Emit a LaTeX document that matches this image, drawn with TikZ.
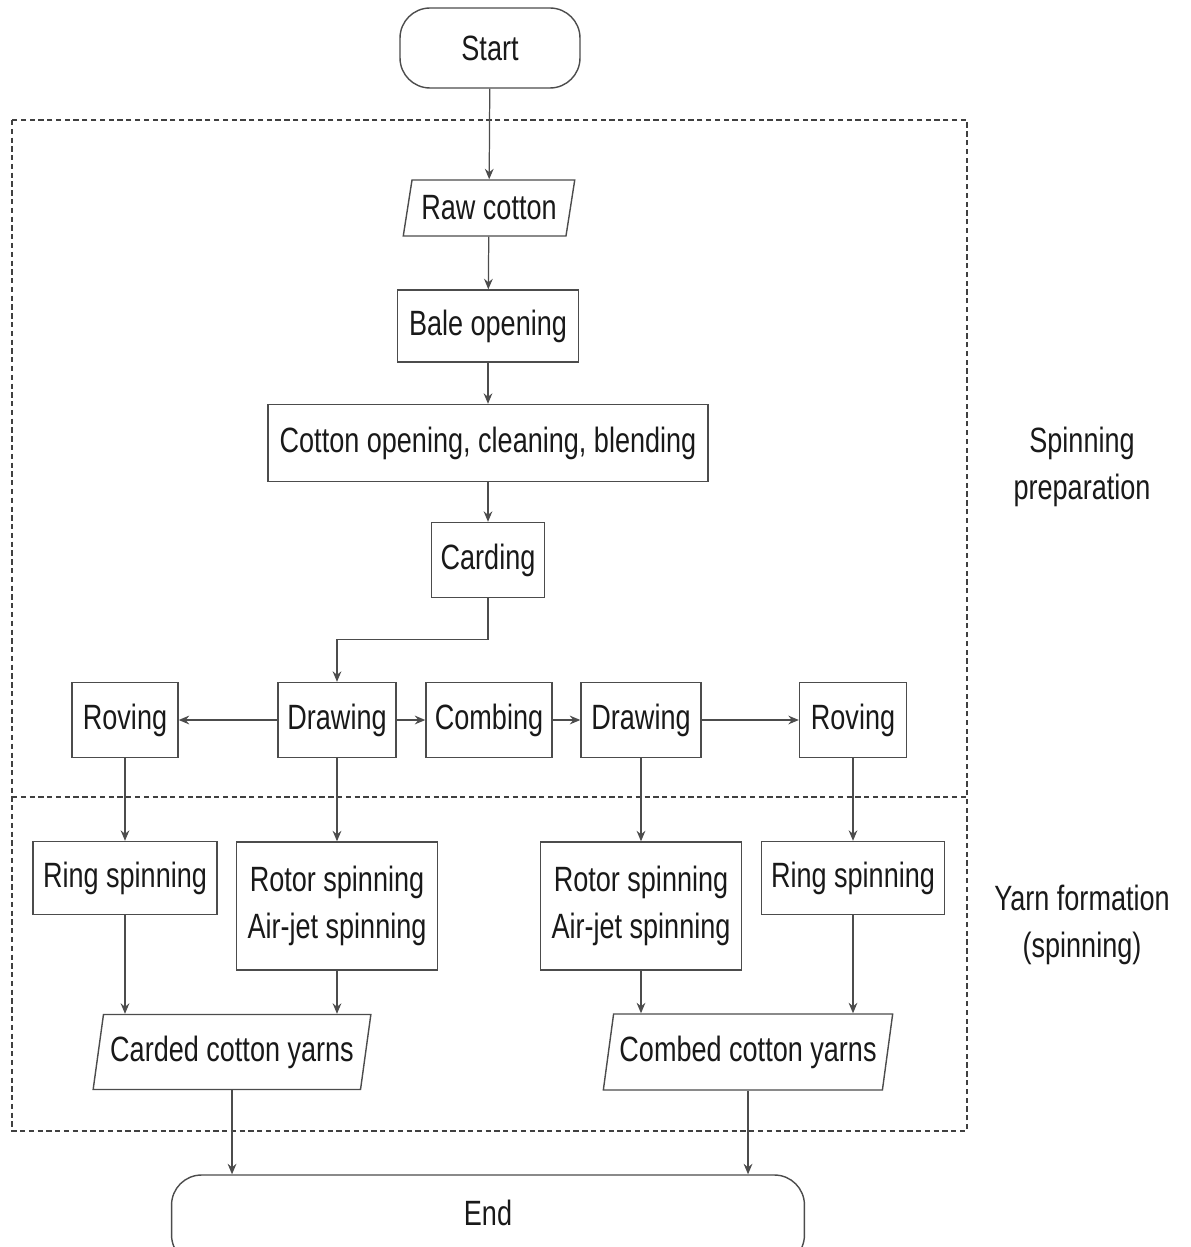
\documentclass[tikz,border=0pt]{standalone}
\usepackage{fontspec}
\setmainfont{Liberation Sans}[FakeStretch=0.77]
\usetikzlibrary{shapes.geometric,arrows.meta}

\begin{document}
\begin{tikzpicture}[
    x=0.02cm, y=-0.02cm,
    every node/.style={font=\fontsize{20}{27}\selectfont, text=black!90},
    box/.style={draw=black!70, line width=0.8pt, rectangle, align=center},
    io/.style={draw=black!70, line width=0.8pt, trapezium, trapezium left angle=77,
        trapezium right angle=103, trapezium stretches=true},
    term/.style={draw=black!70, line width=0.8pt, rectangle, rounded corners=0.6cm},
    flow/.style={draw=black!70, line width=0.7pt, -{Stealth[length=6pt,width=5pt,inset=2pt]}},
    zone/.style={draw=black!75, line width=0.8pt, dash pattern=on 3pt off 2pt}]
    \useasboundingbox (0,0) rectangle (1190,1247);

    % zones
    \draw[zone] (12,120) rectangle (967,1131);
    \draw[zone] (12,797) -- (967,797);
    \node[align=center] (prep) at (1082,467) {Spinning\\preparation};
    \node[align=center] (yarn) at (1082,925) {Yarn formation\\(spinning)};

    % main line
    \node[term, minimum width=3.6cm, minimum height=1.6cm] (start) at (490,48) {Start};
    \node[io, minimum width=3.44cm, minimum height=1.12cm] (raw) at (489,208) {Raw cotton};
    \node[box, minimum width=3.62cm, minimum height=1.44cm] (bale) at (488,326) {Bale opening};
    \node[box, minimum width=8.8cm, minimum height=1.54cm] (clean) at (488,443) {Cotton opening, cleaning, blending};
    \node[box, minimum width=2.26cm, minimum height=1.5cm] (card) at (488,560) {Carding};

    % drawing row
    \node[box, minimum width=2.12cm, minimum height=1.5cm] (rovL) at (125,720) {Roving};
    \node[box, minimum width=2.36cm, minimum height=1.5cm] (drawA) at (337,720) {Drawing};
    \node[box, minimum width=2.52cm, minimum height=1.5cm] (comb) at (489,720) {Combing};
    \node[box, minimum width=2.4cm, minimum height=1.5cm] (drawB) at (641,720) {Drawing};
    \node[box, minimum width=2.14cm, minimum height=1.5cm] (rovR) at (853,720) {Roving};

    % spinning
    \node[box, minimum width=3.68cm, minimum height=1.46cm] (ringL) at (125,878) {Ring spinning};
    \node[box, minimum width=4.02cm, minimum height=2.56cm] (rotL) at (337,906) {Rotor spinning\\Air-jet spinning};
    \node[box, minimum width=4.02cm, minimum height=2.56cm] (rotR) at (641,906) {Rotor spinning\\Air-jet spinning};
    \node[box, minimum width=3.66cm, minimum height=1.46cm] (ringR) at (853,878) {Ring spinning};

    \node[io, minimum width=5.56cm, minimum height=1.5cm] (carded) at (232,1052) {Carded cotton yarns};
    \node[io, minimum width=5.8cm, minimum height=1.52cm] (combed) at (748,1052) {Combed cotton yarns};
    \node[term, minimum width=12.66cm, minimum height=1.8cm] (end) at (488,1220) {};
    \node (endtxt) at (488,1213) {End};

    \draw[flow] (start) -- (raw);
    \draw[flow] (raw) -- (bale);
    \draw[flow] (bale) -- (clean);
    \draw[flow] (clean) -- (card);
    \draw[flow] (card.south) -- ++(0,41) -| (drawA.north);
    \draw[flow] (drawA) -- (rovL);
    \draw[flow] (drawA) -- (comb);
    \draw[flow] (comb) -- (drawB);
    \draw[flow] (drawB) -- (rovR);
    \draw[flow] (rovL) -- (ringL);
    \draw[flow] (drawA) -- (rotL);
    \draw[flow] (drawB) -- (rotR);
    \draw[flow] (rovR) -- (ringR);
    \draw[flow] (ringL.south) -- (ringL.south |- carded.north);
    \draw[flow] (rotL.south) -- (rotL.south |- carded.north);
    \draw[flow] (rotR.south) -- (rotR.south |- combed.north);
    \draw[flow] (ringR.south) -- (ringR.south |- combed.north);
    \draw[flow] (carded.south) -- (carded.south |- end.north);
    \draw[flow] (combed.south) -- (combed.south |- end.north);
\end{tikzpicture}
\end{document}
